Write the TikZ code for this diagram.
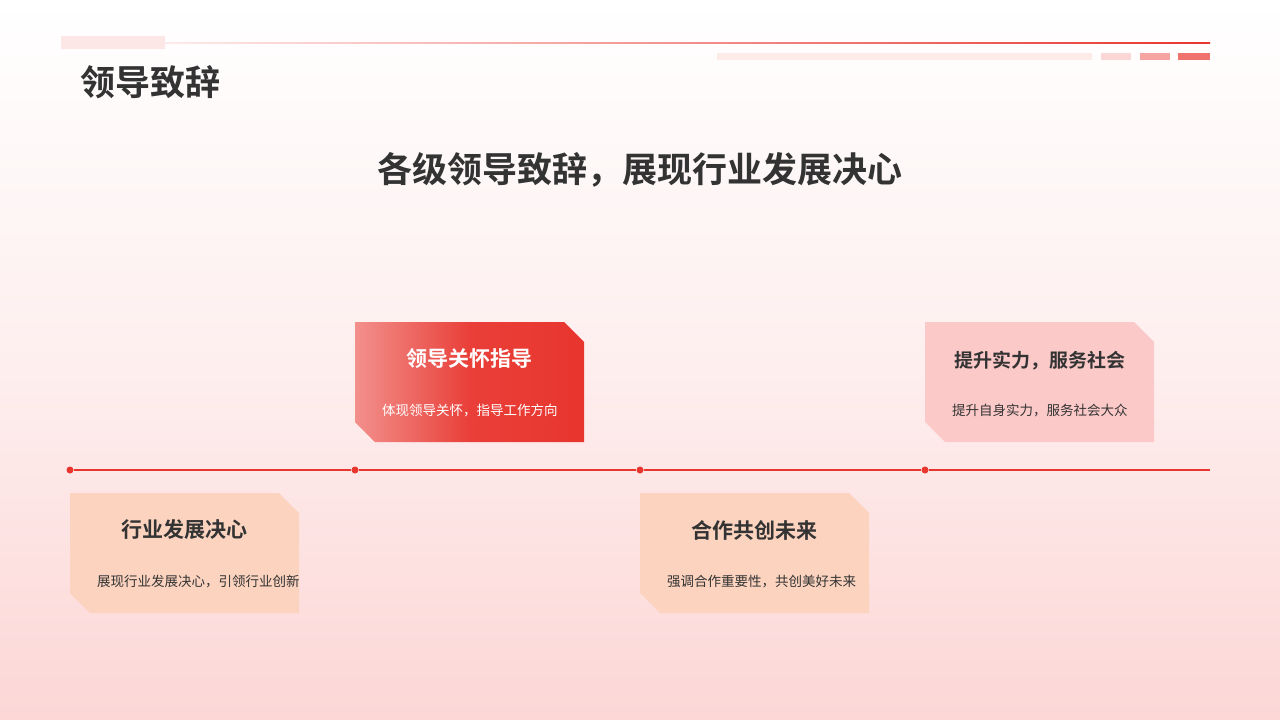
\documentclass[tikz,border=0pt]{standalone}
\usepackage{fontspec}
\setmainfont{Noto Sans CJK SC}
\newfontfamily\cjkb{Noto Sans CJK SC Bold}
\usetikzlibrary{shadings}
\definecolor{tl}{HTML}{E8352E}
\definecolor{peach}{HTML}{FBD3BF}
\definecolor{pinkc}{HTML}{FBC9C8}
\definecolor{txt}{HTML}{333333}
\tikzset{
  ttl/.style={font=\cjkb\fontsize{21}{24}\selectfont,text=txt},
  bdy/.style={font=\fontsize{13.5}{19}\selectfont,text=txt,text width=175pt,align=center},
  dot/.style={circle,fill=tl,inner sep=0pt,minimum size=7pt}
}
\newcommand{\cardshape}[3]{% x, y(top), fill options
  \path[#3] (#1,-#2) -- (#1+209,-#2) -- (#1+229,-#2-20) -- (#1+229,-#2-120) -- (#1+20,-#2-120) -- (#1,-#2-100) -- cycle;}
\begin{document}
\begin{tikzpicture}[x=1pt,y=1pt]
\useasboundingbox (0,0) rectangle (1280,-720);
\shade[top color=white,bottom color=pinkc!75,middle color=white!60!pinkc!75] (0,0) rectangle (1280,-720);
\fill[tl!12] (61,-36) rectangle (165,-49);
\shade[left color=tl!10,right color=tl] (165,-42.2) rectangle (1210,-43.8);
\fill[tl!10] (717,-53) rectangle (1092,-60);
\fill[tl!20] (1101,-53) rectangle (1131,-60);
\fill[tl!45] (1140,-53) rectangle (1170,-60);
\fill[tl!70] (1178,-53) rectangle (1210,-60);
\node[anchor=west,font=\cjkb\fontsize{35}{40}\selectfont,text=txt] (head) at (77,-82) {领导致辞};
\node[font=\cjkb\fontsize{35}{40}\selectfont,text=txt] (sub) at (640,-170) {各级领导致辞，展现行业发展决心};
% timeline
\coordinate (le) at (1210,-470);
\node[dot] (d1) at (70,-470) {};
\node[dot] (d2) at (355,-470) {};
\node[dot] (d3) at (640,-470) {};
\node[dot] (d4) at (925,-470) {};
\draw[tl,line width=2pt] (d1) -- (d2) -- (d3) -- (d4) -- (le);
% cards
\cardshape{70}{493}{fill=peach}
\cardshape{355}{322}{left color=tl!55!white,right color=tl,middle color=tl!95!white}
\cardshape{640}{493}{fill=peach}
\cardshape{925}{322}{fill=pinkc}
\node[ttl] (t1) at (184.5,-530) {行业发展决心};
\node[bdy] (b1) at (184.5,-582) {展现行业发展决心，引领行业创新};
\node[ttl,text=white] (t2) at (469.5,-359) {领导关怀指导};
\node[bdy,text=white] (b2) at (469.5,-411) {体现领导关怀，指导工作方向};
\node[ttl] (t3) at (754.5,-530) {合作共创未来};
\node[bdy] (b3) at (754.5,-582) {强调合作重要性，共创美好未来};
\node[ttl,font=\cjkb\fontsize{19}{24}\selectfont] (t4) at (1039.5,-361) {提升实力，服务社会};
\node[bdy] (b4) at (1039.5,-411) {提升自身实力，服务社会大众};
\end{tikzpicture}
\end{document}
